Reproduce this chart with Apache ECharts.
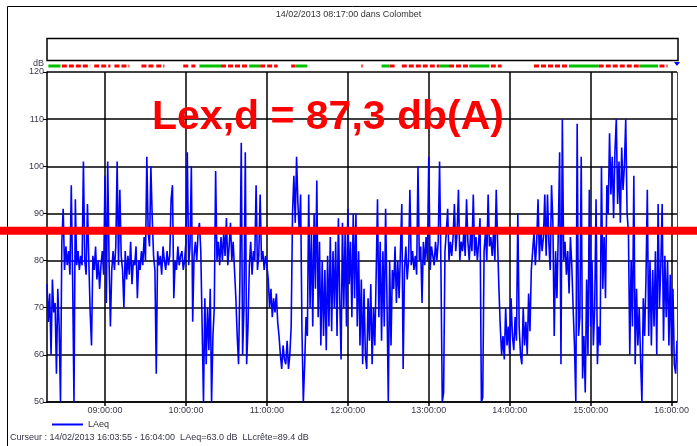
<!DOCTYPE html>
<html><head><meta charset="utf-8">
<script src="https://cdn.jsdelivr.net/npm/echarts@6/dist/echarts.min.js"></script>
<style>html,body{margin:0;padding:0;background:#fff}#c{width:697px;height:446px}</style>
</head><body><div id="c"></div>
<script>
// ---- data (minute of day; 08:17 = 497) ----
const startMinute = 497;   // 08:17:00
const endMinute = 964;     // 16:04:00
const cursorMinute = 964;  // cursor at 16:04:00
const hourTicks = [540, 600, 660, 720, 780, 840, 900, 960];
const yMin = 50, yMax = 120, yStep = 10;
// LAeq, one value per minute from 08:17
const laeq = [
  75, 67, 73, 60, 76, 69, 71, 56, 74, 66,
  50, 84, 91, 78, 83, 79, 82, 77, 96, 76,
  50, 93, 79, 82, 78, 81, 79, 101, 80, 77,
  92, 80, 69, 62, 81, 78, 83, 76, 80, 74,
  79, 82, 77, 98, 71, 101, 80, 66, 78, 82,
  78, 83, 101, 79, 95, 81, 78, 70, 82, 76,
  81, 77, 84, 75, 80, 79, 83, 72, 80, 78,
  82, 79, 85, 80, 102, 86, 83, 100, 89, 81,
  78, 56, 82, 79, 81, 77, 83, 80, 78, 82,
  79, 81, 93, 96, 72, 80, 78, 83, 79, 81,
  82, 78, 80, 84, 103, 79, 83, 100, 67, 81,
  84, 80, 86, 88, 82, 66, 50, 72, 58, 70,
  61, 74, 50, 64, 70, 99, 80, 84, 79, 85,
  80, 86, 81, 89, 79, 83, 88, 80, 84, 78,
  72, 64, 58, 76, 105, 60, 70, 103, 58, 66,
  79, 84, 77, 82, 80, 96, 78, 81, 94, 80,
  82, 78, 81, 79, 76, 70, 74, 68, 72, 69,
  73, 67, 64, 60, 57, 62, 59, 58, 63, 57,
  60, 66, 90, 98, 88, 102, 92, 86, 94, 65,
  50, 58, 68, 64, 94, 70, 86, 66, 90, 74,
  97, 68, 84, 62, 80, 64, 78, 61, 81, 66,
  85, 65, 82, 70, 84, 64, 89, 72, 59, 88,
  70, 86, 66, 91, 75, 84, 68, 90, 72, 90,
  66, 82, 62, 76, 58, 74, 60, 57, 72, 63,
  75, 58, 70, 62, 77, 93, 68, 84, 63, 82,
  66, 91, 72, 50, 80, 62, 78, 74, 83, 71,
  80, 72, 82, 92, 57, 78, 83, 76, 80, 95,
  79, 82, 78, 81, 77, 100, 80, 83, 71, 84,
  79, 85, 80, 102, 78, 83, 81, 79, 84, 80,
  84, 101, 79, 50, 52, 82, 86, 91, 80, 84,
  81, 85, 92, 82, 86, 95, 80, 84, 82, 86,
  81, 93, 84, 80, 86, 82, 94, 81, 85, 80,
  84, 89, 50, 51, 82, 86, 80, 94, 83, 85,
  81, 86, 80, 95, 84, 74, 66, 60, 64, 59,
  70, 62, 66, 60, 72, 64, 61, 68, 63, 90,
  66, 60, 58, 70, 62, 67, 60, 73, 65, 78,
  82, 86, 79, 84, 93, 80, 87, 82, 85, 94,
  81, 94, 84, 78, 96, 88, 64, 82, 72, 86,
  103, 58, 110, 80, 84, 77, 82, 73, 85, 79,
  70, 62, 50, 109, 64, 68, 102, 55, 64, 52,
  76, 60, 95, 66, 80, 62, 70, 93, 58, 66,
  62, 100, 74, 85, 72, 96, 90, 107, 94, 102,
  89, 103, 110, 92, 101, 88, 104, 95, 100, 110,
  90, 86, 60, 80, 66, 98, 58, 74, 62, 70,
  59, 50, 72, 64, 76, 95, 64, 80, 62, 78,
  66, 82, 60, 92, 70, 79, 92, 63, 81, 68,
  80, 62, 77, 60, 74, 58, 56, 63
];
// event marker strip (minute of day intervals)
const redMarks = [[508,529],[532,544],[547,558],[567,576],[578,584],[598,603],[604,607],
  [626,647],[655,668],[678,681],[730,731],[751,756],[760,788],[795,810],[826,834],
  [858,884],[906,936],[951,957]];
const greenMarks = [[498,507],[610,626],[647,655],[681,690],[745,751],[788,795],[810,825],
  [884,906],[936,950]];
const lexLine = 86.3;
const titleText = '14/02/2013 08:17:00 dans Colombet';
const lexText = 'Lex,d = 87,3 db(A)';
const cursorText = 'Curseur : 14/02/2013 16:03:55 - 16:04:00  LAeq=63.0 dB  LLcrête=89.4 dB';
const seriesName = 'LAeq';

// ---- chart ----
const FONT = 'Liberation Sans';
const seriesData = laeq.map((v, i) => [startMinute + i, v]);
const markData = redMarks.map(r => [r[0], r[1], 0]).concat(greenMarks.map(g => [g[0], g[1], 1]));
const pad = n => (n < 10 ? '0' : '') + n;
const chart = echarts.init(document.getElementById('c'), null, {renderer: 'canvas'});
chart.setOption({
  animation: false,
  backgroundColor: '#fff',
  title: {text: titleText, left: 'center', top: 5, itemGap: 0,
    textStyle: {fontSize: 9, fontWeight: 'normal', color: '#333', fontFamily: FONT}},
  grid: {left: 47, top: 72, right: 20, bottom: 44, containLabel: false},
  legend: {data: [seriesName], left: 47, top: 415, icon: 'rect', itemWidth: 31, itemHeight: 2,
    textStyle: {fontSize: 9, color: '#333', fontFamily: FONT}},
  xAxis: {type: 'value', min: startMinute, max: endMinute,
    axisLine: {show: true, lineStyle: {color: '#000', width: 1.5}},
    axisTick: {show: true, customValues: hourTicks, length: 4, lineStyle: {color: '#000', width: 1.5}},
    axisLabel: {customValues: hourTicks, margin: 4, fontSize: 9, color: '#3a3a4a', fontFamily: FONT,
      formatter: v => pad(Math.floor(v / 60)) + ':' + pad(v % 60) + ':00'},
    splitLine: {show: true, lineStyle: {color: '#000', width: 1.5}}},
  yAxis: {type: 'value', min: yMin, max: yMax, interval: yStep,
    name: 'dB', nameLocation: 'end', nameGap: 4,
    nameTextStyle: {fontSize: 9, color: '#3a3a4a', fontFamily: FONT, align: 'right', padding: [0, 3, 0, 0]},
    axisLine: {show: true, lineStyle: {color: '#000', width: 1.5}},
    axisTick: {show: true, length: 4, lineStyle: {color: '#000', width: 1}},
    axisLabel: {margin: 3, fontSize: 9, color: '#3a3a4a', fontFamily: FONT},
    splitLine: {show: true, lineStyle: {color: '#000', width: 1.5}}},
  series: [
    {name: seriesName, type: 'line', data: seriesData, showSymbol: false, symbol: 'none',
      sampling: null, z: 3,
      lineStyle: {color: '#0000ff', width: 1.6}, itemStyle: {color: '#0000ff'},
      markLine: {silent: true, symbol: 'none', label: {show: false},
        lineStyle: {color: '#ff0000', width: 1, type: 'solid'},
        data: [{xAxis: cursorMinute}]}},
    {type: 'custom', data: markData, encode: {x: [0, 1]}, clip: false, z: 4,
      renderItem: function (params, api) {
        const s = api.coord([api.value(0), yMax]);
        const e = api.coord([api.value(1), yMax]);
        const red = api.value(2) === 0;
        return {type: 'line', shape: {x1: s[0], y1: s[1] - 6, x2: e[0], y2: s[1] - 6},
          style: {stroke: red ? '#ff0000' : '#00c000', lineWidth: 3, lineDash: red ? [5, 2] : null}};
      }}
  ]
});

const yLex = chart.convertToPixel({yAxisIndex: 0}, lexLine);
const yTop = chart.convertToPixel({yAxisIndex: 0}, yMax);
const xCur = chart.convertToPixel({xAxisIndex: 0}, cursorMinute);
const xLeft = chart.convertToPixel({xAxisIndex: 0}, startMinute);
chart.setOption({graphic: [
  {type: 'rect', z: 1, shape: {x: 7.5, y: 6.5, width: 700, height: 450},
    style: {fill: null, stroke: '#000', lineWidth: 1}},
  {type: 'rect', z: 1, shape: {x: xLeft, y: 38.5, width: xCur - xLeft + 1, height: 22},
    style: {fill: null, stroke: '#000', lineWidth: 1.5}},
  {type: 'polygon', z: 10, shape: {points: [[xCur - 3, yTop - 10], [xCur + 3, yTop - 10], [xCur, yTop - 6]]},
    style: {fill: '#0000ff'}},
  {type: 'line', z: 20, shape: {x1: 0, y1: yLex, x2: 697, y2: yLex},
    style: {stroke: '#ff0000', lineWidth: 8}},
  {type: 'text', z: 21, x: 152, y: 118,
    style: {text: lexText, fill: '#ff0000', font: 'bold 41px "Liberation Sans"', verticalAlign: 'middle'}},
  {type: 'text', z: 21, x: 10, y: 438,
    style: {text: cursorText, fill: '#333344', font: '9px "Liberation Sans"', verticalAlign: 'middle'}}
]});
</script>
</body></html>
